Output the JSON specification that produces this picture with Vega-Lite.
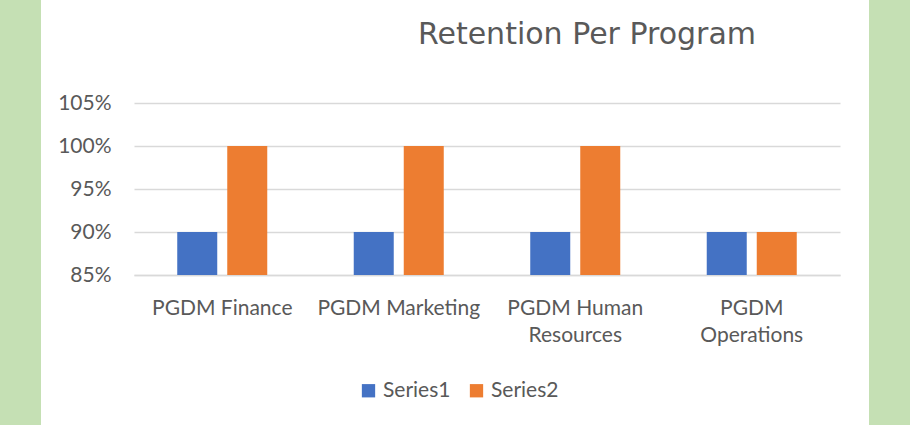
{
  "$schema": "https://vega.github.io/schema/vega-lite/v6.json",
  "padding": 0,
  "background": "white",
  "spacing": 0,
  "hconcat": [
    {
      "width": 41,
      "height": 425,
      "view": {"fill": "#C5E0B4", "stroke": null},
      "data": {"values": []},
      "mark": "rect",
      "encoding": {}
    },
    {
      "spacing": 29,
      "hconcat": [
        {
          "spacing": 19,
          "vconcat": [
            {
              "width": 706,
              "height": 1,
              "data": {"values": []},
              "mark": "rect",
              "encoding": {}
            },
            {
              "width": 706,
              "height": 172,
              "title": {
                "text": "Retention Per Program",
                "font": "DejaVu Sans",
                "fontSize": 30,
                "fontWeight": "normal",
                "color": "#595959",
                "anchor": "middle",
                "frame": "group",
                "dx": 100,
                "offset": 18,
                "baseline": "alphabetic"
              },
              "data": {
                "values": [
                  {"program": "PGDM Finance", "series": "Series1", "value": 0.9},
                  {"program": "PGDM Finance", "series": "Series2", "value": 1.0},
                  {"program": "PGDM Marketing", "series": "Series1", "value": 0.9},
                  {"program": "PGDM Marketing", "series": "Series2", "value": 1.0},
                  {"program": "PGDM Human Resources", "series": "Series1", "value": 0.9},
                  {"program": "PGDM Human Resources", "series": "Series2", "value": 1.0},
                  {"program": "PGDM Operations", "series": "Series1", "value": 0.9},
                  {"program": "PGDM Operations", "series": "Series2", "value": 0.9}
                ]
              },
              "mark": {"type": "bar"},
              "encoding": {
                "x": {
                  "field": "program",
                  "type": "nominal",
                  "sort": null,
                  "scale": {"paddingInner": 0.49, "paddingOuter": 0.245},
                  "axis": {
                    "title": null,
                    "labelAngle": 0,
                    "ticks": false,
                    "domainColor": "#D9D9D9",
                    "domainWidth": 1.3,
                    "labelFontSize": 21,
                    "labelColor": "#595959",
                    "labelPadding": 22,
                    "labelLineHeight": 27,
                    "labelLimit": 0,
                    "labelExpr": "datum.value == 'PGDM Human Resources' ? ['PGDM Human', 'Resources'] : datum.value == 'PGDM Operations' ? ['PGDM', 'Operations'] : datum.label"
                  }
                },
                "xOffset": {
                  "field": "series",
                  "type": "nominal",
                  "scale": {"paddingInner": 0.2, "paddingOuter": 0}
                },
                "y": {
                  "field": "value",
                  "type": "quantitative",
                  "scale": {"domain": [0.85, 1.05], "zero": false, "nice": false},
                  "axis": {
                    "values": [0.85, 0.9, 0.95, 1.0, 1.05],
                    "format": ".0%",
                    "title": null,
                    "domain": false,
                    "ticks": false,
                    "labelPadding": 23,
                    "minExtent": 93,
                    "labelFontSize": 21,
                    "labelColor": "#595959",
                    "gridColor": "#D9D9D9",
                    "gridWidth": 1.3
                  }
                },
                "y2": {"datum": 0.85},
                "color": {
                  "field": "series",
                  "type": "nominal",
                  "scale": {"domain": ["Series1", "Series2"], "range": ["#4472C4", "#ED7D31"]},
                  "legend": {
                    "title": null,
                    "orient": "none",
                    "legendX": 358,
                    "legendY": 380,
                    "direction": "horizontal",
                    "symbolType": "square",
                    "symbolSize": 177,
                    "symbolStrokeWidth": 0,
                    "labelFontSize": 21,
                    "labelColor": "#595959",
                    "labelOffset": 4,
                    "columnPadding": 15
                  }
                }
              }
            }
          ]
        },
        {
          "width": 41,
          "height": 425,
          "view": {"fill": "#C5E0B4", "stroke": null},
          "data": {"values": []},
          "mark": "rect",
          "encoding": {}
        }
      ]
    }
  ],
  "config": {
    "font": "Lato",
    "view": {"stroke": null}
  }
}
